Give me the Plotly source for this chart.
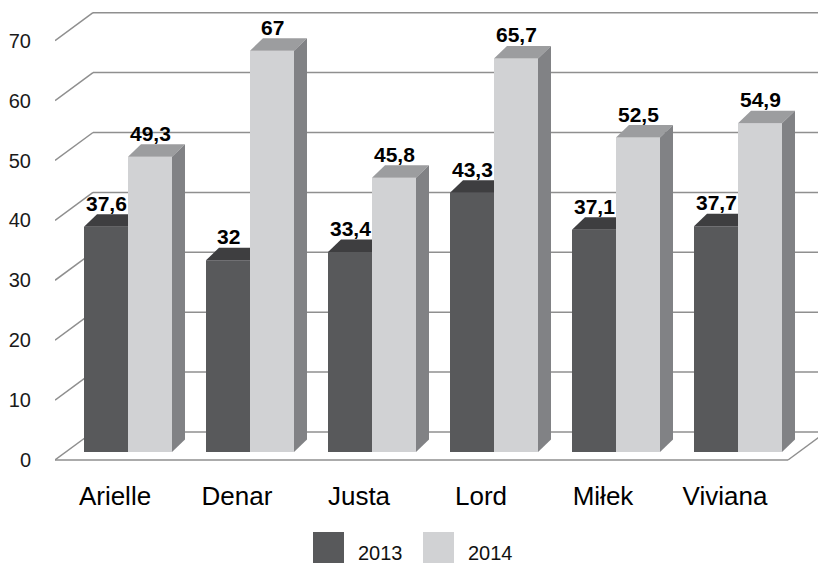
import plotly.graph_objects as go

# ---- data ----
categories = ["Arielle", "Denar", "Justa", "Lord", "Miłek", "Viviana"]
series_names = ["2013", "2014"]
values_2013 = [37.6, 32, 33.4, 43.3, 37.1, 37.7]
values_2014 = [49.3, 67, 45.8, 65.7, 52.5, 54.9]
y_ticks = [0, 10, 20, 30, 40, 50, 60, 70]

# ---- styling / layout constants (pixels) ----
W, H = 818, 564
ML, MR, MT, MB = 55, 0, 0, 94
PW, PH = W - ML - MR, H - MT - MB
UX = 122.0          # px per category step
CX0 = 128.0         # px of first category centre (bar plane)
SY = 5.99           # px per value unit
FRONT_BASE = 460.0  # px of value 0 on front edge
BAR_BASE = 452.0    # px of value 0 on bar front plane
BACK_BASE = 432.0   # px of value 0 on back wall
BACK_DX = 38.0      # px horizontal offset front -> back wall
BW = 44.0 / UX      # bar width in category units
DEP_X = 13.0 / UX   # bar depth (x units)
DEP_Y = 12.5 / SY   # bar depth (value units)
LABEL_SHIFT = -13.0 / UX

C13_FRONT, C13_TOP = "#58595b", "#3e3e40"
C14_FRONT, C14_TOP, C14_SIDE = "#d1d2d4", "#9c9d9f", "#818285"
GRID = "#8f8f8f"
FONT = "Liberation Sans, Arial, sans-serif"


def px2x(px):
    return (px - CX0) / UX


x_range = [px2x(ML), px2x(W - MR)]
y_range = [(FRONT_BASE - (MT + PH)) / SY, (FRONT_BASE - MT) / SY]
y2_range = [(BAR_BASE - (MT + PH)) / SY, (BAR_BASE - MT) / SY]
back_off = (FRONT_BASE - BACK_BASE) / SY

xs = list(range(len(categories)))
fig = go.Figure()

# front faces of bars
fig.add_trace(go.Bar(x=xs, y=values_2013, width=[BW] * len(xs), offset=[-BW] * len(xs),
                     marker=dict(color=C13_FRONT, line=dict(width=0)), name=series_names[0],
                     yaxis="y2", showlegend=False))
fig.add_trace(go.Bar(x=xs, y=values_2014, width=[BW] * len(xs), offset=[0] * len(xs),
                     marker=dict(color=C14_FRONT, line=dict(width=0)), name=series_names[1],
                     yaxis="y2", showlegend=False))

# 3D tops and sides
for i, v in zip(xs, values_2013):
    xl, xr = i - BW, i
    fig.add_trace(go.Scatter(x=[xl, xr, xr, xl + DEP_X, xl], y=[v, v, v + DEP_Y, v + DEP_Y, v],
                             mode="lines", fill="toself", fillcolor=C13_TOP, line=dict(width=0),
                             yaxis="y2", hoverinfo="skip", showlegend=False))
for i, v in zip(xs, values_2014):
    xl, xr = i, i + BW
    fig.add_trace(go.Scatter(x=[xl, xr, xr + DEP_X, xl + DEP_X, xl], y=[v, v, v + DEP_Y, v + DEP_Y, v],
                             mode="lines", fill="toself", fillcolor=C14_TOP, line=dict(width=0),
                             yaxis="y2", hoverinfo="skip", showlegend=False))
    fig.add_trace(go.Scatter(x=[xr, xr + DEP_X, xr + DEP_X, xr, xr], y=[v, v + DEP_Y, DEP_Y, 0, v],
                             mode="lines", fill="toself", fillcolor=C14_SIDE, line=dict(width=0),
                             yaxis="y2", hoverinfo="skip", showlegend=False))

# gridlines: back wall + left diagonals + floor
shapes = []
x_front_left = px2x(ML)
x_back_left = px2x(ML + BACK_DX)
for t in y_ticks:
    shapes.append(dict(type="line", xref="x", yref="y", x0=x_back_left, x1=px2x(W + 20),
                       y0=t + back_off, y1=t + back_off, line=dict(color=GRID, width=1.5), layer="below"))
    shapes.append(dict(type="line", xref="x", yref="y", x0=x_front_left, x1=x_back_left,
                       y0=t, y1=t + back_off, line=dict(color=GRID, width=1.5), layer="below"))
floor_right = px2x(788)
shapes.append(dict(type="line", xref="x", yref="y", x0=x_front_left, x1=floor_right, y0=0, y1=0,
                   line=dict(color=GRID, width=1.5), layer="below"))
shapes.append(dict(type="line", xref="x", yref="y", x0=floor_right, x1=px2x(788 + BACK_DX), y0=0,
                   y1=back_off, line=dict(color=GRID, width=1.5), layer="below"))

# legend (manual)
def pxp(px):
    return (px - ML) / PW


def pyp(py):
    return (MT + PH - py) / PH


leg = [(series_names[0], C13_FRONT, 313), (series_names[1], C14_FRONT, 423)]
annotations = []
for name, col, lx in leg:
    shapes.append(dict(type="rect", xref="paper", yref="paper", x0=pxp(lx), x1=pxp(lx + 31),
                       y0=pyp(563), y1=pyp(532), fillcolor=col, line=dict(width=0)))
    annotations.append(dict(text=name, xref="paper", yref="paper", x=pxp(lx + 43), y=pyp(553),
                            xanchor="left", yanchor="middle", showarrow=False,
                            font=dict(family=FONT, size=20, color="#111111")))

# data labels
def fmt(v):
    return ("%g" % v).replace(".", ",")


for vals, off in ((values_2013, -BW / 2), (values_2014, BW / 2)):
    for i, v in zip(xs, vals):
        annotations.append(dict(text="<b>%s</b>" % fmt(v), x=i + off, y=v, xref="x", yref="y2",
                                xanchor="center", yanchor="bottom", yshift=10, showarrow=False,
                                font=dict(family=FONT, size=21, color="#000000")))

fig.update_layout(
    width=W, height=H,
    margin=dict(l=ML, r=MR, t=MT, b=MB),
    paper_bgcolor="white", plot_bgcolor="white",
    barmode="overlay",
    showlegend=False,
    shapes=shapes,
    annotations=annotations,
    xaxis=dict(range=x_range, showgrid=False, zeroline=False, showline=False,
               tickmode="array", tickvals=[i + LABEL_SHIFT for i in xs], ticktext=categories,
               ticks="outside", ticklen=3, tickcolor="rgba(0,0,0,0)",
               tickfont=dict(family=FONT, size=26, color="#000000")),
    yaxis=dict(range=y_range, showgrid=False, zeroline=False, showline=False,
               tickmode="array", tickvals=y_ticks, ticktext=[str(t) for t in y_ticks],
               ticks="outside", ticklen=19, tickcolor="rgba(0,0,0,0)",
               tickfont=dict(family=FONT, size=20, color="#1a1a1a")),
    yaxis2=dict(range=y2_range, overlaying="y", visible=False),
)

fig.write_html("out.html", config={"displayModeBar": False},
               post_script="document.body.style.margin='0px';")
